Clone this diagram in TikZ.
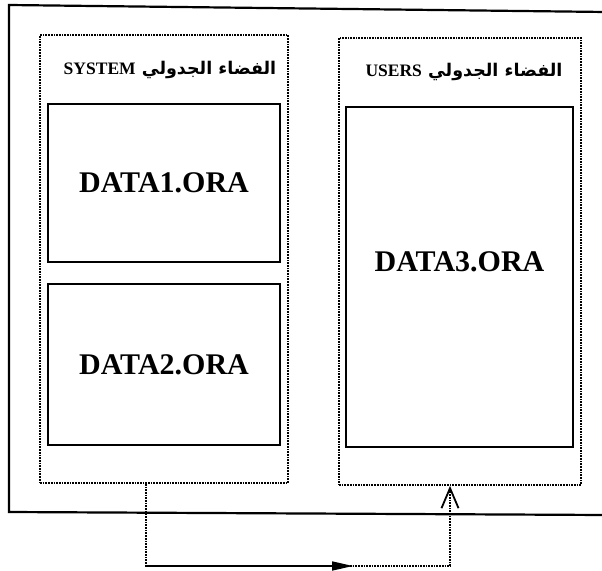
\documentclass[tikz,border=0pt]{standalone}
\usepackage{fontspec}
\setmainfont{Liberation Serif}
\newfontfamily\arabicfont[Script=Arabic]{DejaVu Sans}
\TeXXeTstate=1
\usetikzlibrary{arrows.meta}

\begin{document}
\begin{tikzpicture}[
    x=1pt, y=-1pt, % pixel grid, y runs down
    line width=2.2pt, % line style
    space/.style={draw, densely dotted, line width=1.7pt},
    file/.style={draw, solid, line width=2.2pt},
    fname/.style={font=\bfseries\fontsize{30}{30}\selectfont},
    title/.style={font=\bfseries\fontsize{17.5}{17.5}\selectfont},
    link/.style={densely dotted, line width=1.7pt},
]
\useasboundingbox (0,0) rectangle (602,570);

% outer frame, runs off the right edge
\draw (606,12) -- (9,5) -- (9,512) -- (606,515);

% tablespaces
\node[space, minimum width=248pt, minimum height=448pt] (sys) at (164,259) {};
\node[space, minimum width=242pt, minimum height=447pt] (usr) at (460,261.5) {};

\node[title] (sysT) at (170,70) {\arabicfont\beginR الفضاء الجدولي \beginL\rmfamily SYSTEM\endL\endR};
\node[title] (usrT) at (464,72) {\arabicfont\beginR الفضاء الجدولي \beginL\rmfamily USERS\endL\endR};

% data files
\node[file, fname, minimum width=232pt, minimum height=158pt] (d1) at (164,183) {DATA1.ORA};
\node[file, fname, minimum width=232pt, minimum height=161pt] (d2) at (164,364.5) {DATA2.ORA};
\node[file, minimum width=227pt, minimum height=340pt] (d3) at (459.5,277) {};
\node[fname] (d3t) at ([yshift=15pt]d3.center) {DATA3.ORA};

% link between the two tablespaces
\coordinate (c1) at (146,566);
\coordinate (c2) at (450,566);
\coordinate (c3) at (353,566);
\draw[link] (sys.south -| c1) -- (c1) -- (c2);
\draw[link, -{Triangle[length=21pt, width=9pt]}] (c1) -- (c3);
\draw[link, -{Straight Barb[length=20pt, width=17pt, line width=1.8pt]}] (c2) -- (usr.south -| c2);
\end{tikzpicture}
\end{document}
